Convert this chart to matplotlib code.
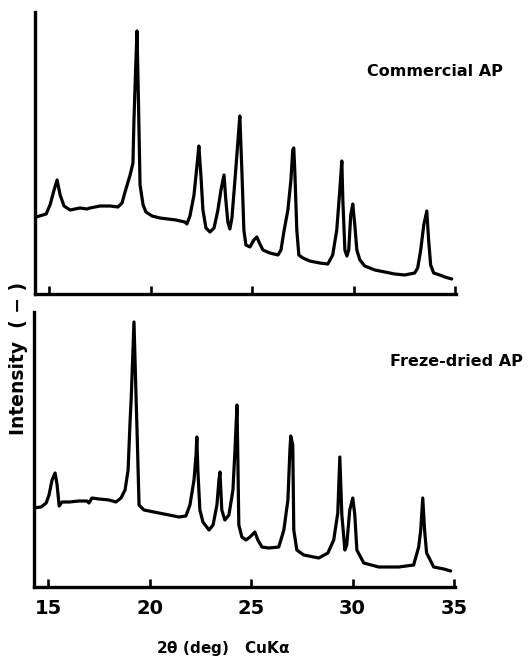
import matplotlib
matplotlib.use("Agg")
import matplotlib.pyplot as plt

# ---- data (2-theta in deg, intensity in arbitrary units) ----
commercial_2theta = [14.34, 14.84, 15.03, 15.23, 15.38, 15.53, 15.72, 16.02, 16.51, 16.85, 17.0,
                     17.5, 17.99, 18.38, 18.58, 18.73, 18.98, 19.12, 19.17, 19.25, 19.32, 19.39,
                     19.47, 19.62, 19.76, 20.06, 20.45, 21.24, 21.68, 21.78, 21.93, 22.13, 22.28,
                     22.37, 22.47, 22.57, 22.72, 22.92, 23.12, 23.31, 23.46, 23.61, 23.70, 23.80,
                     23.90, 24.00, 24.15, 24.30, 24.39, 24.49, 24.59, 24.69, 24.89, 25.08, 25.23,
                     25.38, 25.53, 25.87, 26.27, 26.42, 26.56, 26.76, 26.91, 27.00, 27.05, 27.10,
                     27.20, 27.30, 27.50, 27.84, 28.33, 28.73, 28.97, 29.17, 29.32, 29.42, 29.47,
                     29.57, 29.67, 29.76, 29.86, 29.96, 30.06, 30.16, 30.31, 30.55, 31.05, 31.54,
                     32.03, 32.52, 33.01, 33.16, 33.31, 33.46, 33.61, 33.70, 33.80, 33.95, 34.25,
                     34.50, 34.84]
commercial_int = [77, 80, 89, 104, 114, 99, 88, 84, 86, 85, 86,
                  88, 88, 87, 91, 102, 119, 131, 174, 224, 263, 194,
                  109, 89, 82, 78, 76, 74, 72, 70, 78, 99, 129,
                  148, 119, 84, 66, 62, 66, 84, 104, 119, 94, 72,
                  65, 76, 114, 154, 178, 124, 64, 49, 47, 54, 57,
                  50, 44, 41, 39, 44, 62, 84, 114, 144, 146, 124,
                  64, 39, 36, 33, 31, 30, 39, 64, 104, 133, 94,
                  44, 38, 44, 79, 90, 69, 44, 34, 28, 24, 22,
                  20, 19, 21, 26, 44, 69, 83, 54, 29, 21, 19,
                  17, 15]

freezedried_2theta = [14.25, 14.64, 14.89, 15.03, 15.18, 15.33, 15.43, 15.53, 15.67, 16.02, 16.51,
                      16.90, 17.0, 17.15, 17.5, 17.99, 18.33, 18.58, 18.78, 18.93, 19.03, 19.08,
                      19.22, 19.32, 19.37, 19.47, 19.71, 19.96, 20.45, 20.95, 21.44, 21.78, 21.98,
                      22.18, 22.28, 22.32, 22.37, 22.47, 22.62, 22.92, 23.12, 23.31, 23.41, 23.46,
                      23.55, 23.70, 23.90, 24.10, 24.20, 24.30, 24.35, 24.39, 24.54, 24.74, 24.94,
                      25.18, 25.33, 25.53, 25.87, 26.36, 26.61, 26.81, 26.91, 26.95, 27.05, 27.10,
                      27.25, 27.59, 28.33, 28.78, 29.07, 29.27, 29.37, 29.47, 29.62, 29.71, 29.86,
                      30.01, 30.11, 30.21, 30.55, 31.29, 32.28, 33.01, 33.26, 33.36, 33.46, 33.55,
                      33.65, 34.0, 34.50, 34.84]
freezedried_int = [79, 80, 84, 92, 107, 114, 102, 81, 85, 85, 86,
                   86, 84, 89, 88, 87, 85, 89, 97, 117, 167, 187,
                   265, 192, 157, 82, 77, 76, 74, 72, 70, 71, 82,
                   107, 132, 150, 117, 77, 65, 57, 62, 82, 107, 115,
                   77, 67, 72, 97, 137, 182, 117, 62, 50, 47, 50,
                   55, 47, 40, 39, 40, 57, 87, 137, 151, 142, 57,
                   37, 32, 29, 34, 47, 74, 130, 72, 37, 42, 77,
                   89, 72, 37, 24, 20, 20, 22, 40, 57, 89, 57,
                   34, 20, 18, 16]

x_ticks = [15, 20, 25, 30, 35]
x_tick_labels = ["15", "20", "25", "30", "35"]
panel_labels = ["Commercial AP", "Freze-dried AP"]

# ---- figure ----
W, H = 532, 657
fig = plt.figure(figsize=(W / 100, H / 100), dpi=100)
fig.patch.set_facecolor("white")

FONT = ["DejaVu Sans"]
plt.rcParams["mathtext.fontset"] = "dejavusans"
XMIN, XMAX = 14.29, 35.05

def fx(px):
    return px / W

def fy(py):
    return 1 - py / H

left_px, right_px = 35, 456
ax_top = fig.add_axes([fx(left_px), fy(294), fx(right_px - left_px), (294 - 12) / H])
ax_bot = fig.add_axes([fx(left_px - 1), fy(587), fx(right_px - left_px), (587 - 312) / H])

for ax, xs, ys, ymax in [(ax_top, commercial_2theta, commercial_int, 282),
                         (ax_bot, freezedried_2theta, freezedried_int, 275)]:
    ax.plot(xs, ys, color="black", lw=2.3, solid_joinstyle="round", solid_capstyle="round")
    ax.set_xlim(XMIN, XMAX)
    ax.set_ylim(0, ymax)
    for s in ["top", "right"]:
        ax.spines[s].set_visible(False)
    for s in ["left", "bottom"]:
        ax.spines[s].set_linewidth(2.4)
    ax.set_yticks([])
    ax.set_xticks(x_ticks)
    ax.tick_params(axis="x", direction="in", length=6, width=1.9, pad=9)
    ax.set_facecolor("none")

ax_top.set_xticklabels([])
ax_bot.set_xticklabels(x_tick_labels, fontsize=14, fontweight="bold", family=FONT)

fig.text(fx(435), fy(72), panel_labels[0], fontsize=11.5, fontweight="bold",
         family=FONT, ha="center", va="center")
fig.text(fx(456), fy(362), panel_labels[1], fontsize=11.5, fontweight="bold",
         family=FONT, ha="center", va="center")

fig.text(fx(19), fy(358), "Intensity  ( \u2212 )", fontsize=13.5, fontweight="bold",
         family=FONT, rotation=90, ha="center", va="center")

fig.text(fx(223), fy(648), "2$\\mathbf{\\theta}$ (deg)   CuK\u03b1", fontsize=11,
         fontweight="bold", family=FONT, ha="center", va="center")

fig.savefig("out.png", dpi=100, facecolor="white")
